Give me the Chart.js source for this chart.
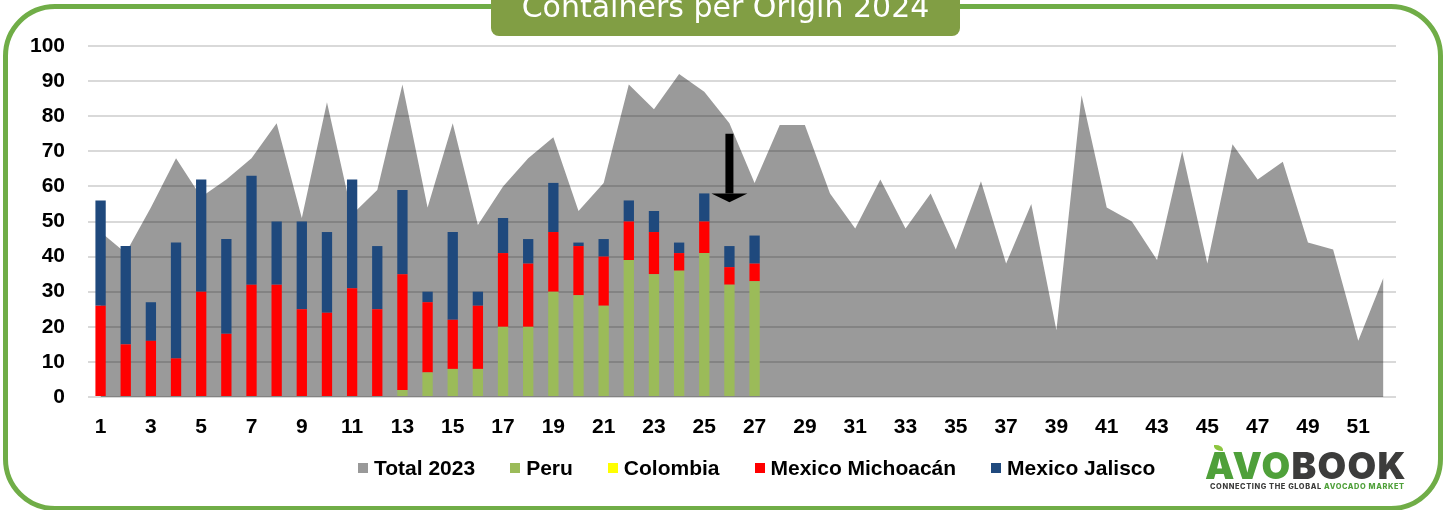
<!DOCTYPE html>
<html>
<head>
<meta charset="utf-8">
<title>Containers per Origin 2024</title>
<script src="https://cdn.jsdelivr.net/npm/chart.js@4.4.1/dist/chart.umd.min.js"></script>
<style>
  html, body { margin: 0; padding: 0; background: #fff; }
  #wrap { position: relative; width: 1445px; height: 510px; overflow: hidden; font-family: "Liberation Sans", Arial, sans-serif; }
  #frame { position: absolute; left: 3px; top: 4px; width: 1440px; height: 507px; box-sizing: border-box; border: 5px solid #70AD47; border-radius: 52px; }
  #chart { position: absolute; left: 0; top: 0; }
  #title { position: absolute; left: 491px; top: -8px; width: 469px; height: 44px; background: #819E44; border-radius: 8px;
           color: #fff; font-family: "DejaVu Sans", sans-serif; font-size: 30px; line-height: 30px; text-align: center; }
  #legend { position: absolute; left: 358px; top: 456px; display: flex; align-items: center; font-weight: bold; font-size: 21px; color: #000; white-space: nowrap; }
  #legend .item { display: flex; align-items: center; margin-right: 35px; }
  #legend .swatch { width: 10px; height: 10px; margin-right: 6px; }
  #logo { position: absolute; left: 1205px; top: 444px; width: 205px; }
  #logo .leaf { position: absolute; left: 9px; top: 1px; width: 9px; height: 6px; background: #8DC63F; border-radius: 0 80% 0 80%; }
  #logo .brand { position: absolute; left: 0; top: 3px; font-family: Inter, "DejaVu Sans", sans-serif; font-weight: 900; font-size: 37px; line-height: 37px; letter-spacing: 1.3px; color: #3C3C3B; }
  #logo .tag { position: absolute; left: 5px; top: 39px; font-family: Inter, "DejaVu Sans", sans-serif; font-weight: 800; font-size: 7.4px; line-height: 8px; letter-spacing: 0.6px; color: #3C3C3B; white-space: nowrap; }
  #logo .g { color: #4FA03A; }
</style>
</head>
<body>
<div id="wrap">
  <div id="frame"></div>
  <canvas id="chart" width="1445" height="510"></canvas>
  <div id="title">Containers per Origin 2024</div>
  <div id="legend"></div>
  <div id="logo">
    <div class="leaf"></div>
    <div class="brand"><span class="g">AVO</span>BOOK</div>
    <div class="tag">CONNECTING THE GLOBAL <span class="g">AVOCADO MARKET</span></div>
  </div>
</div>
<script>
  // Weeks of the year
  const WEEKS = ['1','2','3','4','5','6','7','8','9','10','11','12','13','14','15','16','17','18','19','20',
                 '21','22','23','24','25','26','27','28','29','30','31','32','33','34','35','36','37','38','39','40',
                 '41','42','43','44','45','46','47','48','49','50','51','52'];

  // Containers per week, previous year total
  const TOTAL_2023 = [47, 41, 54, 68, 57, 62, 68, 78, 51, 84,
                      52, 59, 89, 54, 78, 49, 60, 68, 74, 53,
                      61, 89, 82, 92, 87, 78, 61, 77.5, 77.5, 58,
                      48, 62, 48, 58, 42, 61.5, 38, 55, 19, 86,
                      54, 50, 39, 70, 38, 72, 62, 67, 44, 42, 16, 34];

  // 2024 by origin (weeks 1-27)
  const PERU      = [0, 0, 0, 0, 0, 0, 0, 0, 0, 0, 0, 0, 2, 7, 8, 8, 20, 20, 30, 29, 26, 39, 35, 36, 41, 32, 33];
  const COLOMBIA  = [0, 0, 0, 0, 0, 0, 0, 0, 0, 0, 0, 0, 0, 0, 0, 0, 0, 0, 0, 0, 0, 0, 0, 0, 0, 0, 0];
  const MICHOACAN = [26, 15, 16, 11, 30, 18, 32, 32, 25, 24, 31, 25, 33, 20, 14, 18, 21, 18, 17, 14, 14, 11, 12, 5, 9, 5, 5];
  const JALISCO   = [30, 28, 11, 33, 32, 27, 31, 18, 25, 23, 31, 18, 24, 3, 25, 4, 10, 7, 14, 1, 5, 6, 6, 3, 8, 6, 8];

  const Y_TICKS = { min: 0, max: 100, step: 10 };

  // Marker arrow over the current week
  const ARROW_WEEK = 26;
  const ARROW_FROM = 75;
  const ARROW_HEAD = 58;
  const ARROW_TO = 55.5;

  const SERIES = [
    { label: 'Total 2023',       color: '#999999' },
    { label: 'Peru',             color: '#9BBB59' },
    { label: 'Colombia',         color: '#FFFF00' },
    { label: 'Mexico Michoacán', color: '#FF0000' },
    { label: 'Mexico Jalisco',   color: '#1F497D' },
  ];

  // HTML legend
  document.getElementById('legend').innerHTML = SERIES.map(s => `
    <div class="item"><span class="swatch" style="background:${s.color}"></span>${s.label}</div>
  `).join('');

  const arrowPlugin = {
    id: 'weekArrow',
    afterDatasetsDraw(chart) {
      const { ctx, scales: { x, y } } = chart;
      const cx = x.getPixelForValue(ARROW_WEEK - 1);
      const top = y.getPixelForValue(ARROW_FROM);
      const base = y.getPixelForValue(ARROW_HEAD);
      const tip = y.getPixelForValue(ARROW_TO);
      ctx.save();
      ctx.fillStyle = '#000';
      ctx.fillRect(cx - 4, top, 8, base - top);
      ctx.beginPath();
      ctx.moveTo(cx - 18, base);
      ctx.lineTo(cx + 18, base);
      ctx.lineTo(cx, tip);
      ctx.closePath();
      ctx.fill();
      ctx.restore();
    }
  };

  const barSet = (label, data, color) => ({
    type: 'bar',
    label,
    data,
    backgroundColor: color,
    borderWidth: 0,
    stack: 'origin',
    order: 1,
    barPercentage: 0.41,
    categoryPercentage: 1,
  });

  const tickFont = { family: '"Liberation Sans", Arial, sans-serif', size: 21, weight: 'bold' };

  new Chart(document.getElementById('chart'), {
    data: {
      labels: WEEKS,
      datasets: [
        {
          type: 'line',
          label: 'Total 2023',
          data: TOTAL_2023,
          fill: 'origin',
          backgroundColor: 'rgba(0,0,0,0.395)',
          borderWidth: 0,
          pointRadius: 0,
          tension: 0,
          stack: 'total',
          order: 2,
        },
        barSet('Peru', PERU, '#9BBB59'),
        barSet('Colombia', COLOMBIA, '#FFFF00'),
        barSet('Mexico Michoacán', MICHOACAN, '#FF0000'),
        barSet('Mexico Jalisco', JALISCO, '#1F497D'),
      ],
    },
    options: {
      responsive: false,
      animation: false,
      devicePixelRatio: 1,
      layout: { padding: { top: 46, right: 49, bottom: 0, left: 0 } },
      plugins: {
        legend: { display: false },
        tooltip: { enabled: false },
      },
      scales: {
        x: {
          stacked: true,
          offset: true,
          grid: { display: false, drawTicks: false },
          border: { display: false },
          ticks: {
            autoSkip: false,
            maxRotation: 0,
            padding: 18,
            color: '#000',
            font: tickFont,
            callback: (v, i) => (i % 2 === 0 ? WEEKS[i] : ''),
          },
          afterFit: (scale) => { scale.height = 113; },
        },
        y: {
          stacked: true,
          min: Y_TICKS.min,
          max: Y_TICKS.max,
          grid: { color: '#D9D9D9', lineWidth: 2, drawTicks: false },
          border: { display: false },
          ticks: {
            stepSize: Y_TICKS.step,
            padding: 23,
            color: '#000',
            font: tickFont,
          },
          afterFit: (scale) => { scale.width = 88; },
        },
      },
    },
    plugins: [arrowPlugin],
  });
</script>
</body>
</html>
